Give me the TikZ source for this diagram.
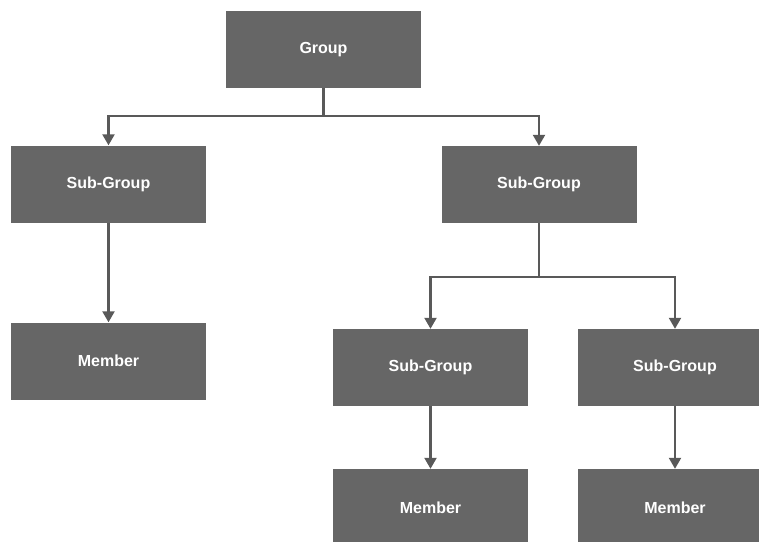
\documentclass[tikz,border=0pt]{standalone}
\usepackage{fontspec}
\setmainfont{Liberation Sans}
\usetikzlibrary{arrows.meta}
\definecolor{boxgray}{HTML}{666666}
\definecolor{linegray}{HTML}{595959}
\begin{document}
\begin{tikzpicture}[x=1pt,y=-1pt,
  box/.style={draw=none,fill=boxgray,minimum width=195pt,minimum height=77pt,inner sep=0pt,
    text=white,font=\fontsize{16}{19}\selectfont\bfseries},
  arr/.style={draw=linegray,line width=2.2pt,-{Triangle[width=12pt,length=11pt]}},
  ln/.style={draw=linegray,line width=2.2pt}]
\useasboundingbox (0,0) rectangle (759,541);
\clip (0,0) rectangle (759,541);
\node[box] (G)  at (323.5,49.5) {Group};
\node[box] (S1) at (108.5,184)  {Sub-Group};
\node[box] (S2) at (539,184.5)  {Sub-Group};
\node[box] (M1) at (108.5,361)  {Member};
\node[box] (S3) at (430.5,367.5) {Sub-Group};
\node[box] (S4) at (675,367.5)  {Sub-Group};
\node[box] (M3) at (430.5,507.5) {Member};
\node[box] (M4) at (675,507.5)  {Member};
\coordinate (j1) at (323.5,116);
\coordinate (j2) at (539,277);
\draw[ln] (G.south) -- (j1);
\draw[arr] (j1) -| (S1.north);
\draw[arr] (j1) -| (S2.north);
\draw[ln] (S2.south) -- (j2);
\draw[arr] (j2) -| (S3.north);
\draw[arr] (j2) -| (S4.north);
\draw[arr] (S1.south) -- (M1.north);
\draw[arr] (S3.south) -- (M3.north);
\draw[arr] (S4.south) -- (M4.north);
\end{tikzpicture}
\end{document}
